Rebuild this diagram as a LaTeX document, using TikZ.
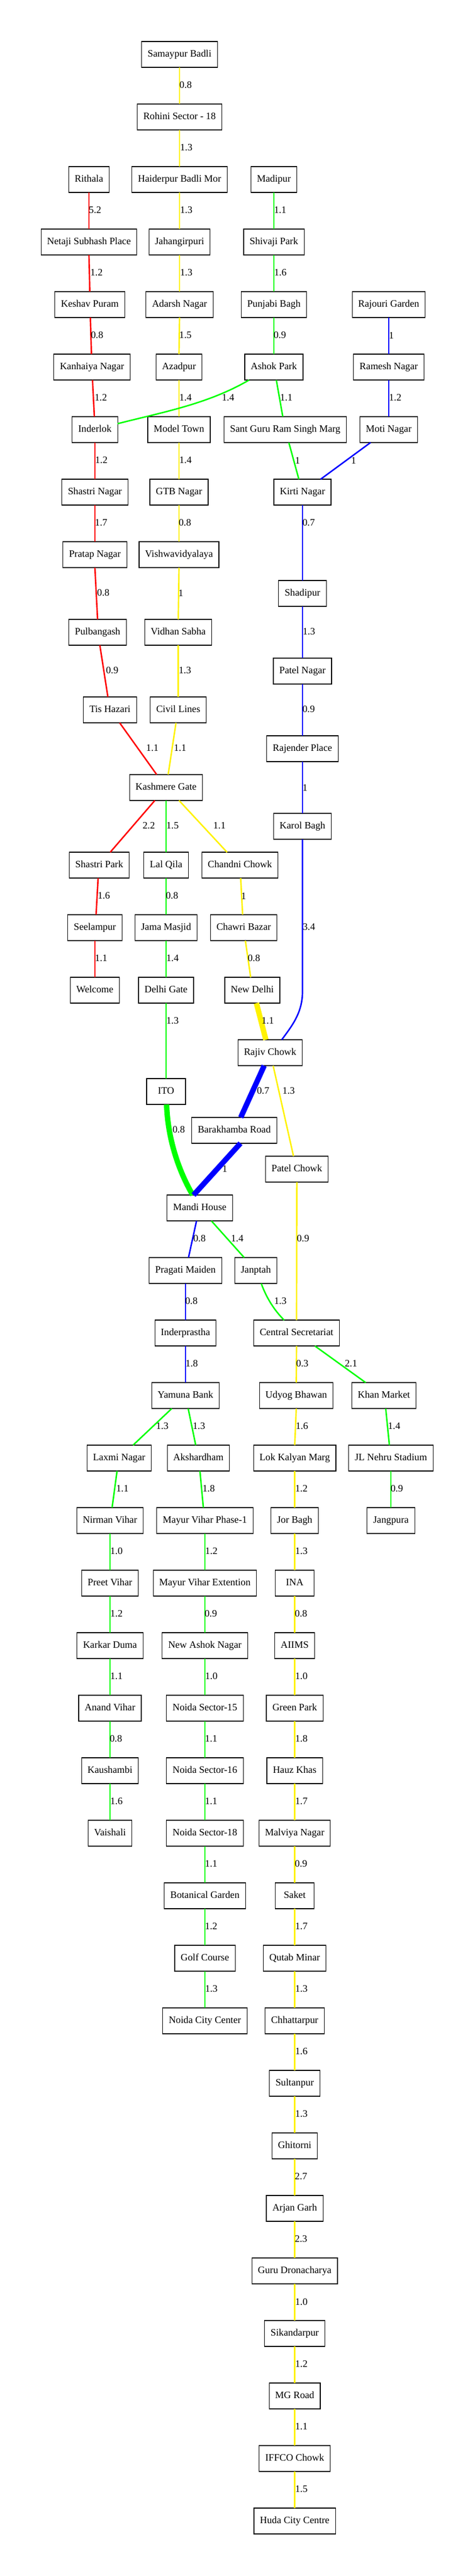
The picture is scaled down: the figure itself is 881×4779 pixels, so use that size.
\documentclass[tikz,border=0pt]{standalone}
\usepackage{fontspec}
\setmainfont{Liberation Serif}
\tikzset{
  station/.style={draw=black, line width=0.9pt, rectangle, outer sep=0pt, inner xsep=8.4pt, inner ysep=0pt,
    minimum width=54pt, minimum height=36pt, text height=10pt, text depth=3pt, font=\fontsize{13.7}{16}\selectfont},
  dist/.style={inner sep=0pt, outer sep=0pt, font=\fontsize{13.7}{16}\selectfont},
  redline/.style={draw=red, line width=2pt},
  yellowline/.style={draw=yellow, line width=2pt},
  greenline/.style={draw=green, line width=2pt},
  blueline/.style={draw=blue, line width=2pt},
  heavy/.style={line width=7.5pt}
}
\begin{document}
\begin{tikzpicture}[x=0.75pt, y=-0.75pt]
    \useasboundingbox (0,0) rectangle (881,4779);

    % yellow stations
    \node[station] (samaypur) at (333,101) {Samaypur Badli};
    \node[station] (rohini) at (333,217) {Rohini Sector - 18};
    \node[station] (haiderpur) at (333,333) {Haiderpur Badli Mor};
    \node[station] (jahangirpuri) at (333,449) {Jahangirpuri};
    \node[station] (adarsh) at (333,565) {Adarsh Nagar};
    \node[station] (azadpur) at (332,681) {Azadpur};
    \node[station] (modeltown) at (332,797) {Model Town};
    \node[station] (gtb) at (332,913) {GTB Nagar};
    \node[station] (vishwa) at (332,1029) {Vishwavidyalaya};
    \node[station] (vidhan) at (330.6,1173) {Vidhan Sabha};
    \node[station] (civil) at (330.6,1317) {Civil Lines};
    \node[station] (kashmere) at (308,1461) {Kashmere Gate};
    \node[station] (chandni) at (445,1605) {Chandni Chowk};
    \node[station] (chawri) at (452,1721) {Chawri Bazar};
    \node[station] (newdelhi) at (468,1837) {New Delhi};
    \node[station] (rajiv) at (501,1953) {Rajiv Chowk};
    \node[station] (patelchowk) at (550.6,2169) {Patel Chowk};
    \node[station] (central) at (550,2473) {Central Secretariat};
    \node[station] (udyog) at (549.5,2589) {Udyog Bhawan};
    \node[station] (lok) at (546.6,2705) {Lok Kalyan Marg};
    \node[station] (jor) at (546.6,2821) {Jor Bagh};
    \node[station] (ina) at (546.6,2937) {INA};
    \node[station] (aiims) at (546.6,3053) {AIIMS};
    \node[station] (green) at (546.6,3169) {Green Park};
    \node[station] (hauz) at (546.6,3285) {Hauz Khas};
    \node[station] (malviya) at (546.6,3401) {Malviya Nagar};
    \node[station] (saket) at (546.6,3517) {Saket};
    \node[station] (qutab) at (546.6,3633) {Qutab Minar};
    \node[station] (chhattarpur) at (546.6,3749) {Chhattarpur};
    \node[station] (sultanpur) at (546.6,3865) {Sultanpur};
    \node[station] (ghitorni) at (546.6,3981) {Ghitorni};
    \node[station] (arjan) at (546.6,4097) {Arjan Garh};
    \node[station] (guru) at (546.6,4213) {Guru Dronacharya};
    \node[station] (sikandarpur) at (546.6,4329) {Sikandarpur};
    \node[station] (mgroad) at (546.6,4445) {MG Road};
    \node[station] (iffco) at (546.6,4561) {IFFCO Chowk};
    \node[station] (huda) at (546.6,4677) {Huda City Centre};

    % red stations
    \node[station] (rithala) at (165,333) {Rithala};
    \node[station] (netaji) at (165,449) {Netaji Subhash Place};
    \node[station] (keshav) at (166.6,565) {Keshav Puram};
    \node[station] (kanhaiya) at (170.6,681) {Kanhaiya Nagar};
    \node[station] (inderlok) at (176,797) {Inderlok};
    \node[station] (shastrinagar) at (176,913) {Shastri Nagar};
    \node[station] (pratap) at (176,1029) {Pratap Nagar};
    \node[station] (pulbangash) at (181,1173) {Pulbangash};
    \node[station] (tis) at (204,1317) {Tis Hazari};
    \node[station] (shastripark) at (184,1605) {Shastri Park};
    \node[station] (seelampur) at (176,1721) {Seelampur};
    \node[station] (welcome) at (176,1837) {Welcome};

    % green stations
    \node[station] (madipur) at (508,333) {Madipur};
    \node[station] (shivaji) at (508,449) {Shivaji Park};
    \node[station] (punjabi) at (508,565) {Punjabi Bagh};
    \node[station] (ashok) at (508,681) {Ashok Park};
    \node[station] (santguru) at (529,797) {Sant Guru Ram Singh Marg};
    \node[station] (lalqila) at (308,1605) {Lal Qila};
    \node[station] (jama) at (308,1721) {Jama Masjid};
    \node[station] (delhigate) at (308,1837) {Delhi Gate};
    \node[station] (ito) at (308,2025) {ITO};
    \node[station] (janptah) at (474.5,2357) {Janptah};
    \node[station] (khan) at (712,2589) {Khan Market};
    \node[station] (jlnehru) at (725,2705) {JL Nehru Stadium};
    \node[station] (jangpura) at (725,2821) {Jangpura};
    \node[station] (laxmi) at (221,2705) {Laxmi Nagar};
    \node[station] (nirman) at (204,2821) {Nirman Vihar};
    \node[station] (preet) at (204,2937) {Preet Vihar};
    \node[station] (karkar) at (204,3053) {Karkar Duma};
    \node[station] (anand) at (204,3169) {Anand Vihar};
    \node[station] (kaushambi) at (204,3285) {Kaushambi};
    \node[station] (vaishali) at (204,3401) {Vaishali};
    \node[station] (akshardham) at (368,2705) {Akshardham};
    \node[station] (mayurone) at (380,2821) {Mayur Vihar Phase-1};
    \node[station] (mayurext) at (380,2937) {Mayur Vihar Extention};
    \node[station] (newashok) at (380,3053) {New Ashok Nagar};
    \node[station] (noidafifteen) at (380,3169) {Noida Sector-15};
    \node[station] (noidasixteen) at (380,3285) {Noida Sector-16};
    \node[station] (noidaeighteen) at (380,3401) {Noida Sector-18};
    \node[station] (botanical) at (380,3517) {Botanical Garden};
    \node[station] (golf) at (380,3633) {Golf Course};
    \node[station] (noidacity) at (380,3749) {Noida City Center};

    % blue stations
    \node[station] (rajouri) at (721,565) {Rajouri Garden};
    \node[station] (ramesh) at (721,681) {Ramesh Nagar};
    \node[station] (moti) at (721,797) {Moti Nagar};
    \node[station] (kirti) at (561,913) {Kirti Nagar};
    \node[station] (shadipur) at (561,1101) {Shadipur};
    \node[station] (patelnagar) at (561,1245) {Patel Nagar};
    \node[station] (rajender) at (561,1389) {Rajender Place};
    \node[station] (karol) at (561,1533) {Karol Bagh};
    \node[station] (barakhamba) at (434.5,2097) {Barakhamba Road};
    \node[station] (mandi) at (370.5,2241) {Mandi House};
    \node[station] (pragati) at (344,2357) {Pragati Maiden};
    \node[station] (inderprastha) at (344,2473) {Inderprastha};
    \node[station] (yamuna) at (344,2589) {Yamuna Bank};

    % yellow line
    \draw[yellowline] (samaypur.south) -- (rohini.north) node[dist] (y1) at (344.4,158) {0.8};
    \draw[yellowline] (rohini.south) -- (haiderpur.north) node[dist] (y2) at (345.5,274) {1.3};
    \draw[yellowline] (haiderpur.south) -- (jahangirpuri.north) node[dist] (y3) at (345.5,390) {1.3};
    \draw[yellowline] (jahangirpuri.south) -- (adarsh.north) node[dist] (y4) at (345.5,506) {1.3};
    \draw[yellowline] (adarsh.south) -- (azadpur.north) node[dist] (y5) at (343.8,622) {1.5};
    \draw[yellowline] (azadpur.south) -- (modeltown.north) node[dist] (y6) at (344,738) {1.4};
    \draw[yellowline] (modeltown.south) -- (gtb.north) node[dist] (y7) at (344,854) {1.4};
    \draw[yellowline] (gtb.south) -- (vishwa.north) node[dist] (y8) at (343,970) {0.8};
    \draw[yellowline] (vishwa.south) -- (vidhan.north) node[dist] (y9) at (335.4,1100) {1};
    \draw[yellowline] (vidhan.south) -- (civil.north) node[dist] (y10) at (343,1244) {1.3};
    \draw[yellowline] ([shift={(-4.2,0)}]civil.south) -- ([shift={(3.9,0)}]kashmere.north) node[dist] (y11) at (334,1388) {1.1};
    \draw[yellowline] ([shift={(24,0)}]kashmere.south) -- ([shift={(-23.9,0)}]chandni.north) node[dist] (y12) at (407,1532) {1.1};
    \draw[yellowline] ([shift={(1.4,0)}]chandni.south) -- ([shift={(-2,0)}]chawri.north) node[dist] (y13) at (452,1662) {1};
    \draw[yellowline] ([shift={(3.1,0)}]chawri.south) -- ([shift={(-3.1,0)}]newdelhi.north) node[dist] (y14) at (471,1778) {0.8};
    \draw[yellowline, heavy] ([shift={(7.6,0)}]newdelhi.south) -- ([shift={(-7.9,0)}]rajiv.north) node[dist] (y15) at (496.6,1894) {1.1};
    \draw[yellowline] ([shift={(5.6,0)}]rajiv.south) -- ([shift={(-6.2,0)}]patelchowk.north) node[dist] (y16) at (535.4,2024) {1.3};
    \draw[yellowline] (patelchowk.south) -- (central.north) node[dist] (y17) at (562,2298) {0.9};
    \draw[yellowline] (central.south) -- (udyog.north) node[dist] (y18) at (560.7,2530) {0.3};
    \draw[yellowline] (udyog.south) -- (lok.north) node[dist] (y19) at (560,2646) {1.6};
    \draw[yellowline] (lok.south) -- (jor.north) node[dist] (y20) at (559,2762) {1.2};
    \draw[yellowline] (jor.south) -- (ina.north) node[dist] (y21) at (559,2878) {1.3};
    \draw[yellowline] (ina.south) -- (aiims.north) node[dist] (y22) at (558.4,2994) {0.8};
    \draw[yellowline] (aiims.south) -- (green.north) node[dist] (y23) at (559,3110) {1.0};
    \draw[yellowline] (green.south) -- (hauz.north) node[dist] (y24) at (559,3226) {1.8};
    \draw[yellowline] (hauz.south) -- (malviya.north) node[dist] (y25) at (559,3342) {1.7};
    \draw[yellowline] (malviya.south) -- (saket.north) node[dist] (y26) at (558.4,3458) {0.9};
    \draw[yellowline] (saket.south) -- (qutab.north) node[dist] (y27) at (559,3574) {1.7};
    \draw[yellowline] (qutab.south) -- (chhattarpur.north) node[dist] (y28) at (559,3690) {1.3};
    \draw[yellowline] (chhattarpur.south) -- (sultanpur.north) node[dist] (y29) at (559,3806) {1.6};
    \draw[yellowline] (sultanpur.south) -- (ghitorni.north) node[dist] (y30) at (559,3922) {1.3};
    \draw[yellowline] (ghitorni.south) -- (arjan.north) node[dist] (y31) at (558.4,4038) {2.7};
    \draw[yellowline] (arjan.south) -- (guru.north) node[dist] (y32) at (558.4,4154) {2.3};
    \draw[yellowline] (guru.south) -- (sikandarpur.north) node[dist] (y33) at (559,4270) {1.0};
    \draw[yellowline] (sikandarpur.south) -- (mgroad.north) node[dist] (y34) at (559,4386) {1.2};
    \draw[yellowline] (mgroad.south) -- (iffco.north) node[dist] (y35) at (559,4502) {1.1};
    \draw[yellowline] (iffco.south) -- (huda.north) node[dist] (y36) at (559,4618) {1.5};

    % red line
    \draw[redline] (rithala.south) -- (netaji.north) node[dist] (r1) at (176.4,390) {5.2};
    \draw[redline] (netaji.south) -- (keshav.north) node[dist] (r2) at (179,506) {1.2};
    \draw[redline] ([shift={(1,0)}]keshav.south) -- ([shift={(-1,0)}]kanhaiya.north) node[dist] (r3) at (180,622) {0.8};
    \draw[redline] ([shift={(1,0)}]kanhaiya.south) -- ([shift={(-1,0)}]inderlok.north) node[dist] (r4) at (187,738) {1.2};
    \draw[redline] (inderlok.south) -- (shastrinagar.north) node[dist] (r5) at (188,854) {1.2};
    \draw[redline] (shastrinagar.south) -- (pratap.north) node[dist] (r6) at (187.6,970) {1.7};
    \draw[redline] (pratap.south) -- (pulbangash.north) node[dist] (r7) at (191.6,1100) {0.8};
    \draw[redline] ([shift={(4.2,0)}]pulbangash.south) -- ([shift={(-3.9,0)}]tis.north) node[dist] (r8) at (208,1244) {0.9};
    \draw[redline] ([shift={(18,0)}]tis.south) -- ([shift={(-17.4,0)}]kashmere.north) node[dist] (r9) at (282.6,1388) {1.1};
    \draw[redline] ([shift={(-20.8,0)}]kashmere.south) -- ([shift={(20.5,0)}]shastripark.north) node[dist] (r10) at (276,1532) {2.2};
    \draw[redline] ([shift={(-2,0)}]shastripark.south) -- ([shift={(2.2,0)}]seelampur.north) node[dist] (r11) at (192.7,1662) {1.6};
    \draw[redline] (seelampur.south) -- (welcome.north) node[dist] (r12) at (187.6,1778) {1.1};

    % green line
    \draw[greenline] (madipur.south) -- (shivaji.north) node[dist] (g1) at (519.7,390) {1.1};
    \draw[greenline] (shivaji.south) -- (punjabi.north) node[dist] (g2) at (520,506) {1.6};
    \draw[greenline] (punjabi.south) -- (ashok.north) node[dist] (g3) at (519,622) {0.9};
    \draw[greenline] ([shift={(-46,0)}]ashok.south) .. controls (385,750) and (300,765) .. ([shift={(0,-11)}]inderlok.east) node[dist] (g4) at (423,738) {1.4};
    \draw[greenline] ([shift={(4.5,0)}]ashok.south) -- ([shift={(-4.5,0)}]santguru.north) node[dist] (g5) at (531,738) {1.1};
    \draw[greenline] ([shift={(6.7,0)}]santguru.south) -- ([shift={(-6.7,0)}]kirti.north) node[dist] (g6) at (552,854) {1};
    \draw[greenline] (kashmere.south) -- (lalqila.north) node[dist] (g7) at (320,1532) {1.5};
    \draw[greenline] (lalqila.south) -- (jama.north) node[dist] (g8) at (319,1662) {0.8};
    \draw[greenline] (jama.south) -- (delhigate.north) node[dist] (g9) at (320,1778) {1.4};
    \draw[greenline] (delhigate.south) -- (ito.north) node[dist] (g10) at (320,1894) {1.3};
    \draw[greenline, heavy] ([shift={(1,0)}]ito.south) .. controls (311,2110) and (330,2170) .. ([shift={(-13,0)}]mandi.north) node[dist] (g11) at (331.5,2096) {0.8};
    \draw[greenline] ([shift={(21.6,0)}]mandi.south) -- ([shift={(-21.6,0)}]janptah.north) node[dist] (g12) at (440,2298) {1.4};
    \draw[greenline] ([shift={(10,0)}]janptah.south) .. controls (495,2410) and (510,2432) .. ([shift={(-23,0)}]central.north) node[dist] (g13) at (520,2414) {1.3};
    \draw[greenline] ([shift={(34,0)}]central.south) -- ([shift={(-33.7,0)}]khan.north) node[dist] (g14) at (651,2530) {2.1};
    \draw[greenline] ([shift={(3.4,0)}]khan.south) -- ([shift={(-2.8,0)}]jlnehru.north) node[dist] (g15) at (731,2646) {1.4};
    \draw[greenline] (jlnehru.south) -- (jangpura.north) node[dist] (g16) at (736,2762) {0.9};
    \draw[greenline] ([shift={(-25.3,0)}]yamuna.south) -- ([shift={(25.8,0)}]laxmi.north) node[dist] (g17) at (301,2646) {1.3};
    \draw[greenline] ([shift={(5,0)}]yamuna.south) -- ([shift={(-5,0)}]akshardham.north) node[dist] (g18) at (369,2646) {1.3};
    \draw[greenline] ([shift={(-3.9,0)}]laxmi.south) -- ([shift={(3.9,0)}]nirman.north) node[dist] (g19) at (227,2762) {1.1};
    \draw[greenline] (nirman.south) -- (preet.north) node[dist] (g20) at (216,2878) {1.0};
    \draw[greenline] (preet.south) -- (karkar.north) node[dist] (g21) at (216,2994) {1.2};
    \draw[greenline] (karkar.south) -- (anand.north) node[dist] (g22) at (216,3110) {1.1};
    \draw[greenline] (anand.south) -- (kaushambi.north) node[dist] (g23) at (215,3226) {0.8};
    \draw[greenline] (kaushambi.south) -- (vaishali.north) node[dist] (g24) at (216,3342) {1.6};
    \draw[greenline] ([shift={(2.8,0)}]akshardham.south) -- ([shift={(-2.8,0)}]mayurone.north) node[dist] (g25) at (387,2762) {1.8};
    \draw[greenline] (mayurone.south) -- (mayurext.north) node[dist] (g26) at (392,2878) {1.2};
    \draw[greenline] (mayurext.south) -- (newashok.north) node[dist] (g27) at (391,2994) {0.9};
    \draw[greenline] (newashok.south) -- (noidafifteen.north) node[dist] (g28) at (392,3110) {1.0};
    \draw[greenline] (noidafifteen.south) -- (noidasixteen.north) node[dist] (g29) at (391.6,3226) {1.1};
    \draw[greenline] (noidasixteen.south) -- (noidaeighteen.north) node[dist] (g30) at (391.6,3342) {1.1};
    \draw[greenline] (noidaeighteen.south) -- (botanical.north) node[dist] (g31) at (391.6,3458) {1.1};
    \draw[greenline] (botanical.south) -- (golf.north) node[dist] (g32) at (391.6,3574) {1.2};
    \draw[greenline] (golf.south) -- (noidacity.north) node[dist] (g33) at (392,3690) {1.3};

    % blue line
    \draw[blueline] (rajouri.south) -- (ramesh.north) node[dist] (b1) at (726,622) {1};
    \draw[blueline] (ramesh.south) -- (moti.north) node[dist] (b2) at (733,738) {1.2};
    \draw[blueline] ([shift={(-33.7,0)}]moti.south) -- ([shift={(33.7,0)}]kirti.north) node[dist] (b3) at (656,854) {1};
    \draw[blueline] (kirti.south) -- (shadipur.north) node[dist] (b4) at (572.5,970) {0.7};
    \draw[blueline] (shadipur.south) -- (patelnagar.north) node[dist] (b5) at (573,1172) {1.3};
    \draw[blueline] (patelnagar.south) -- (rajender.north) node[dist] (b6) at (572.5,1316) {0.9};
    \draw[blueline] (rajender.south) -- (karol.north) node[dist] (b7) at (565.7,1461) {1};
    \draw[blueline] (karol.south) -- (561,1840) .. controls (561,1880) and (540,1905) .. ([shift={(21.5,0)}]rajiv.north) node[dist] (b8) at (573,1720) {3.4};
    \draw[blueline, heavy] ([shift={(-11,0)}]rajiv.south) -- ([shift={(12,0)}]barakhamba.north) node[dist] (b9) at (488,2024) {0.7};
    \draw[blueline, heavy] ([shift={(11.5,0)}]barakhamba.south) -- ([shift={(-11.5,0)}]mandi.north) node[dist] (b10) at (417,2168) {1};
    \draw[blueline] ([shift={(-6,0)}]mandi.south) -- ([shift={(5.6,0)}]pragati.north) node[dist] (b11) at (370,2298) {0.8};
    \draw[blueline] (pragati.south) -- (inderprastha.north) node[dist] (b12) at (355,2414) {0.8};
    \draw[blueline] (inderprastha.south) -- (yamuna.north) node[dist] (b13) at (355.6,2530) {1.8};
\end{tikzpicture}
\end{document}
